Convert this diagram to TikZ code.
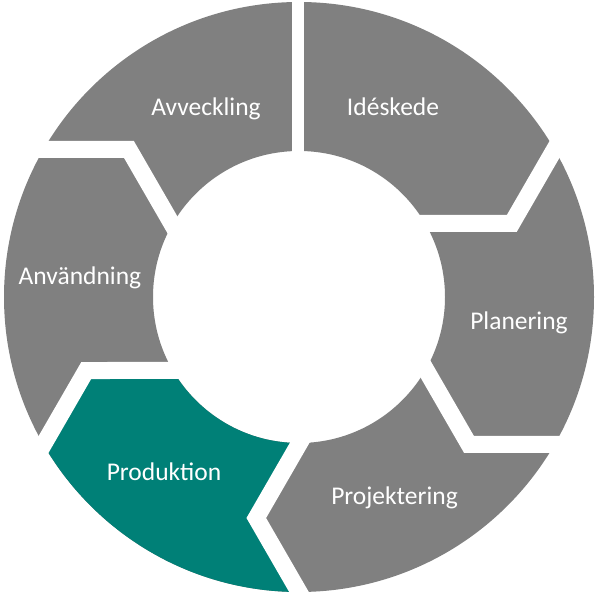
\documentclass[tikz,border=0pt]{standalone}
\usepackage{fontspec}
\setmainfont{Carlito}
\definecolor{seggray}{RGB}{128,128,128}
\definecolor{segteal}{RGB}{0,128,119}
\tikzset{
  gapline/.style={draw=white, line width=17pt, line join=miter},
  straightgap/.style={draw=white, line width=12pt},
  lbl/.style={text=white, font=\fontsize{25.5}{30}\selectfont, anchor=base, inner sep=0pt}
}
\begin{document}
\begin{tikzpicture}[x=1pt,y=1pt]
\useasboundingbox (0,0) rectangle (599,600);
\fill[white] (0,0) rectangle (599,600);
\begin{scope}[shift={(299,303)}]
  % ring
  \fill[seggray, even odd rule] (0,0) circle (295) (0,0) circle (146);
  % Produktion segment (teal)
  \begin{scope}
    \clip ({-90+1.8}:312.15) -- ({-90-10.94}:225.1) -- ({-90+4.31}:130.4) -- (0,0)
      -- ({-150+4.31}:130.4) -- ({-150-10.94}:225.1) -- ({-150+1.8}:312.15)
      -- (-120:450) -- cycle;
    \fill[segteal, even odd rule] (0,0) circle (295) (0,0) circle (146);
  \end{scope}
  % chevron gaps
  \foreach \a in {30,-30,-90,-150,150}{
    \draw[gapline] ({\a+1.8}:312.15) -- ({\a-10.94}:225.1) -- ({\a+4.31}:130.4);
  }
  % straight gap at top
  \draw[straightgap] (-1.5,120) -- (-1.5,310);
\end{scope}
\node[lbl] (ides) at (393,484) {Idéskede};
\node[lbl] (plan) at (519,270) {Planering};
\node[lbl] (proj) at (394.5,95) {Projektering};
\node[lbl] (prod) at (164,119) {Produktion};
\node[lbl] (anv) at (80,315) {Användning};
\node[lbl] (avv) at (206,484) {Avveckling};
\end{tikzpicture}
\end{document}
